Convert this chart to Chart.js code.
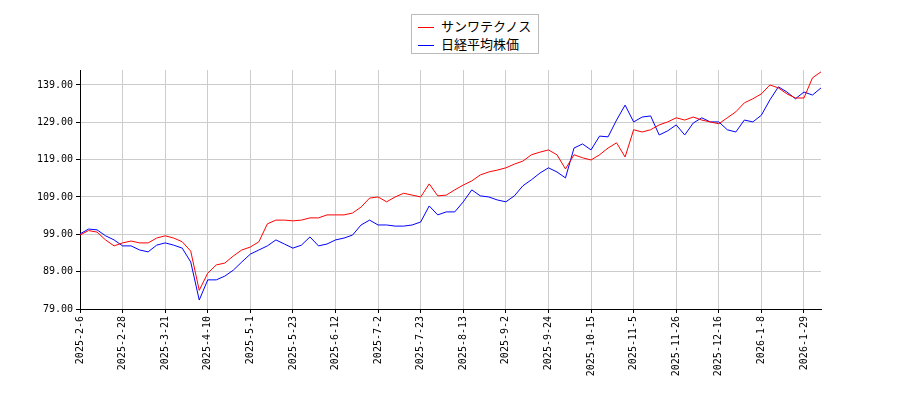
<!DOCTYPE html>
<html>
<head>
<meta charset="utf-8">
<script src="https://cdn.jsdelivr.net/npm/chart.js@4"></script>
<style>
  body { margin: 0; background: #fff; }
  #wrap { position: relative; width: 900px; height: 400px; }
  #legend {
    position: absolute; left: 411px; top: 14px; width: 128px; height: 40px;
    border: 1px solid #bbb; background: #fff; box-sizing: border-box;
    font: 13px "Noto Sans CJK JP", sans-serif; padding: 2px 6px;
  }
  #legend div { height: 18px; line-height: 18px; }
  #legend span.l { display: inline-block; width: 16px; height: 0; border-top: 1px solid; vertical-align: middle; margin-right: 7px; }
</style>
</head>
<body>
<div id="wrap">
  <canvas id="c" width="900" height="400"></canvas>
  <div id="legend">
    <div><span class="l" style="border-color:#ff0000"></span>サンワテクノス</div>
    <div><span class="l" style="border-color:#0000ff"></span>日経平均株価</div>
  </div>
</div>
<script>
// one point every 3 trading days, a tick label every 5 points
const tickLabels = ["2025-2-6", "2025-2-28", "2025-3-21", "2025-4-10", "2025-5-1", "2025-5-23",
  "2025-6-12", "2025-7-2", "2025-7-23", "2025-8-13", "2025-9-2", "2025-9-24", "2025-10-15",
  "2025-11-5", "2025-11-26", "2025-12-16", "2026-1-8", "2026-1-29"];

const sanwa = [98.8, 100.0, 99.6, 97.5, 95.9, 96.7, 97.2, 96.7, 96.7, 98.0,
  98.6, 98.0, 97.0, 94.5, 84.0, 88.6, 90.8, 91.3, 93.2, 94.8,
  95.6, 97.0, 101.8, 102.8, 102.8, 102.6, 102.8, 103.4, 103.4, 104.2,
  104.2, 104.2, 104.7, 106.3, 108.7, 109.0, 107.7, 109.0, 110.0, 109.5,
  109.0, 112.5, 109.3, 109.5, 110.9, 112.2, 113.3, 114.9, 115.7, 116.2,
  116.8, 117.8, 118.6, 120.3, 121.0, 121.6, 120.3, 116.5, 120.3, 119.5,
  118.9, 120.3, 122.1, 123.5, 119.7, 127.0, 126.4, 127.0, 128.3, 129.1,
  130.2, 129.6, 130.4, 129.6, 129.1, 128.6, 130.2, 131.8, 134.2, 135.3,
  136.6, 139.0, 138.2, 136.6, 135.5, 135.5, 140.9, 142.5];

const nikkei = [99.1, 100.4, 100.2, 98.6, 97.5, 95.9, 95.9, 94.8, 94.3, 96.1,
  96.7, 96.1, 95.3, 91.6, 81.4, 86.8, 86.8, 87.8, 89.4, 91.6,
  93.7, 94.8, 95.9, 97.5, 96.4, 95.3, 96.1, 98.3, 95.9, 96.4,
  97.5, 98.0, 98.8, 101.5, 102.8, 101.5, 101.5, 101.2, 101.2, 101.5,
  102.3, 106.6, 104.2, 105.0, 105.0, 107.7, 110.9, 109.3, 109.0, 108.2,
  107.7, 109.3, 112.0, 113.6, 115.4, 116.8, 115.7, 114.1, 122.1, 123.2,
  121.6, 125.3, 125.1, 129.6, 133.6, 129.1, 130.4, 130.7, 125.6, 126.7,
  128.3, 125.6, 128.8, 130.2, 129.1, 129.1, 127.0, 126.4, 129.6, 129.1,
  130.9, 135.0, 138.5, 137.1, 135.3, 137.1, 136.3, 138.2];

const yTicks = [79, 89, 99, 109, 119, 129, 139];

function pts(arr) { return arr.map((v, i) => ({ x: i, y: v })); }

new Chart(document.getElementById("c"), {
  type: "line",
  data: {
    datasets: [
      { label: "サンワテクノス", data: pts(sanwa), borderColor: "#ff0000", borderWidth: 1, pointRadius: 0, tension: 0 },
      { label: "日経平均株価", data: pts(nikkei), borderColor: "#0000ff", borderWidth: 1, pointRadius: 0, tension: 0 }
    ]
  },
  options: {
    responsive: false,
    animation: false,
    layout: { padding: { left: 0, top: 70, right: 79, bottom: 0 } },
    plugins: { legend: { display: false }, tooltip: { enabled: false } },
    scales: {
      x: {
        type: "linear", min: 0, max: 87,
        afterFit: s => { s.height = 91; },
        afterBuildTicks: s => { s.ticks = tickLabels.map((_, i) => ({ value: i * 5 })); },
        grid: { color: "#cccccc", drawTicks: true, tickLength: 4, tickColor: "#000" },
        border: { color: "#000" },
        ticks: {
          autoSkip: false, maxRotation: 90, minRotation: 90, color: "#000",
          font: { family: "DejaVu Sans Mono", size: 10 },
          callback: v => tickLabels[v / 5]
        }
      },
      y: {
        min: 79, max: 143,
        afterFit: s => { s.width = 80; },
        afterBuildTicks: s => { s.ticks = yTicks.map(v => ({ value: v })); },
        grid: { color: "#cccccc", tickLength: 4, tickColor: "#000" },
        border: { color: "#000" },
        ticks: {
          color: "#000", font: { family: "DejaVu Sans Mono", size: 10 },
          callback: v => v.toFixed(2)
        }
      }
    }
  }
});
</script>
</body>
</html>
